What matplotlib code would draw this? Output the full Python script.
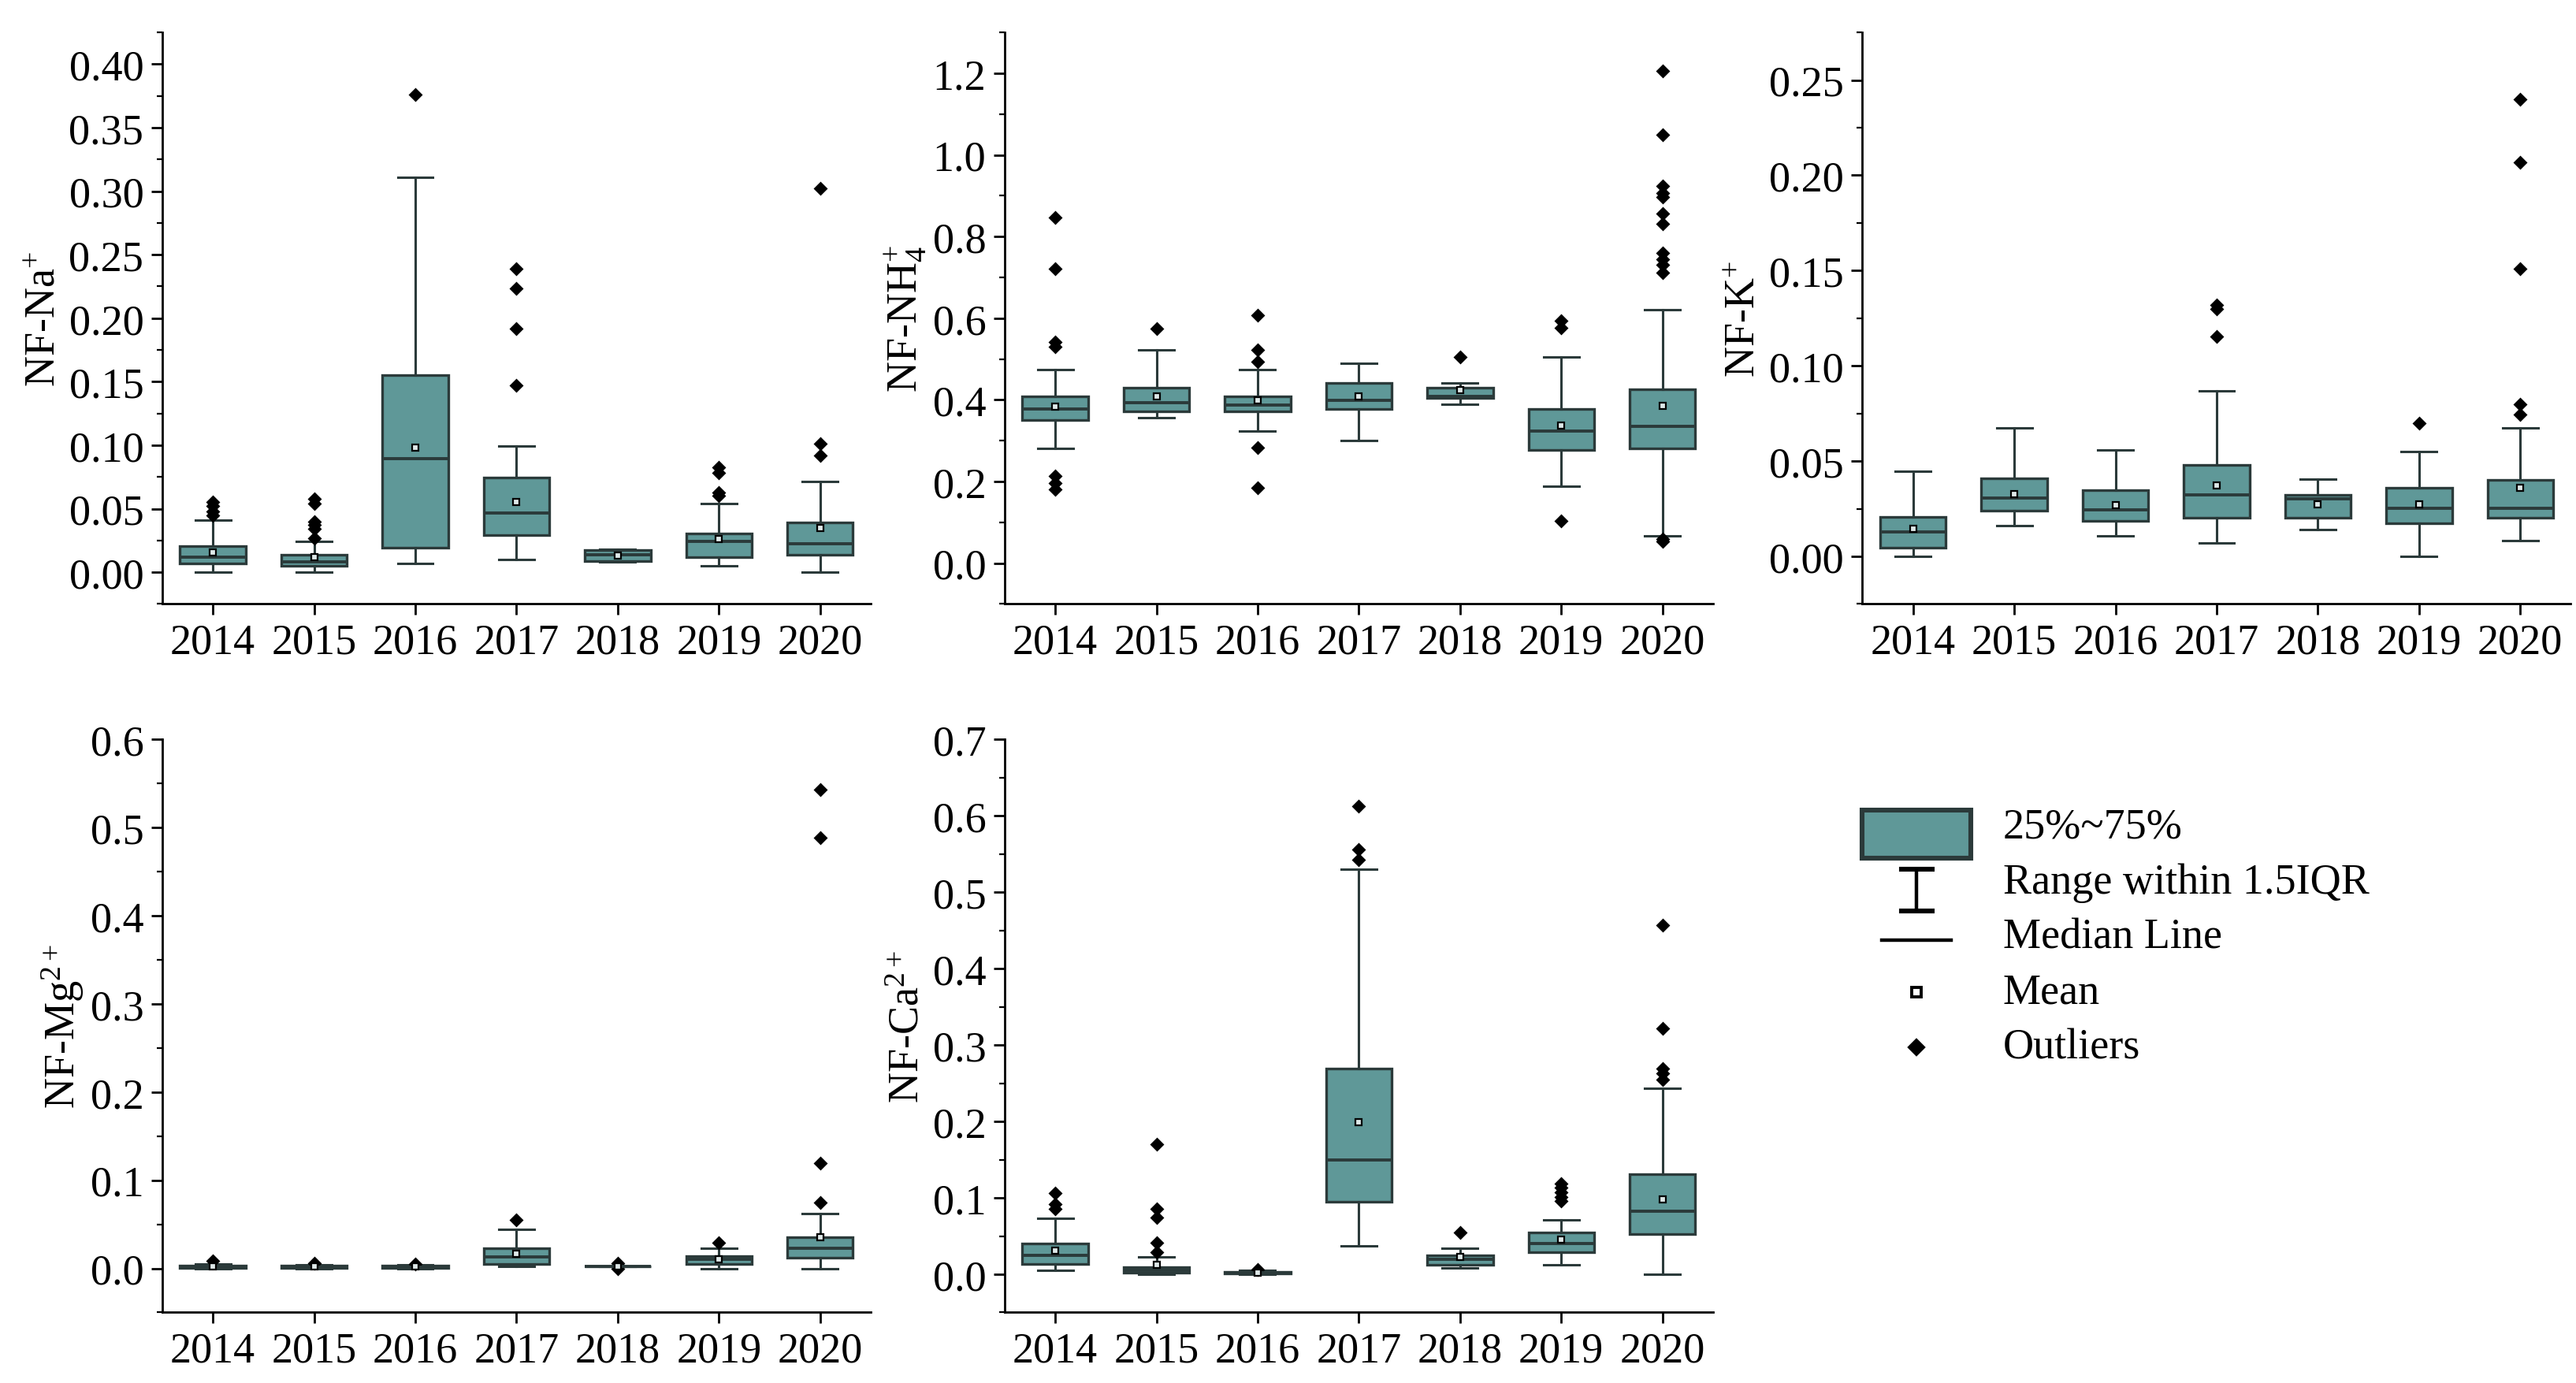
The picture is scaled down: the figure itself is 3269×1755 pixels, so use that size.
import matplotlib
matplotlib.use("Agg")
import matplotlib.pyplot as plt
from matplotlib.ticker import AutoMinorLocator, MultipleLocator
from matplotlib.patches import Rectangle
from matplotlib.lines import Line2D
from matplotlib.legend_handler import HandlerBase

plt.rcParams['font.family'] = ['Liberation Serif', 'DejaVu Serif']
plt.rcParams['mathtext.fontset'] = 'custom'
plt.rcParams['mathtext.rm'] = 'Liberation Serif'
plt.rcParams['mathtext.it'] = 'Liberation Serif:italic'

years = ['2014', '2015', '2016', '2017', '2018', '2019', '2020']

# per ion: whislo, q1, med, q3, whishi, mean, outliers (one entry per year)
na_whislo = [0.0, 0.0, 0.007, 0.010, 0.008, 0.005, 0.0]
na_q1 = [0.0066, 0.0048, 0.019, 0.029, 0.0086, 0.0117, 0.0135]
na_med = [0.0117, 0.0083, 0.0895, 0.0463, 0.0138, 0.0242, 0.0225]
na_q3 = [0.0204, 0.0138, 0.155, 0.0743, 0.0173, 0.0307, 0.039]
na_whishi = [0.0408, 0.024, 0.311, 0.0995, 0.018, 0.0542, 0.0715]
na_mean = [0.0155, 0.012, 0.098, 0.0553, 0.0128, 0.0259, 0.0345]
na_out = [[0.055, 0.052, 0.048, 0.045], [0.058, 0.054, 0.040, 0.037, 0.034, 0.027],
          [0.376], [0.239, 0.2235, 0.1917, 0.1468], [], [0.0826, 0.0784, 0.063, 0.060],
          [0.302, 0.101, 0.092]]

nh4_whislo = [0.281, 0.356, 0.324, 0.301, 0.3885, 0.189, 0.066]
nh4_q1 = [0.350, 0.371, 0.371, 0.377, 0.404, 0.277, 0.281]
nh4_med = [0.378, 0.393, 0.387, 0.399, 0.409, 0.324, 0.335]
nh4_q3 = [0.409, 0.430, 0.409, 0.441, 0.430, 0.377, 0.425]
nh4_whishi = [0.4735, 0.522, 0.4735, 0.490, 0.441, 0.504, 0.62]
nh4_mean = [0.384, 0.409, 0.399, 0.409, 0.423, 0.337, 0.385]
nh4_out = [[0.846, 0.722, 0.541, 0.531, 0.213, 0.197, 0.181], [0.574],
           [0.608, 0.522, 0.493, 0.283, 0.184], [], [0.504], [0.593, 0.576, 0.103],
           [1.206, 1.049, 0.923, 0.907, 0.896, 0.857, 0.832, 0.759, 0.744, 0.730, 0.711,
            0.059, 0.054]]

k_whislo = [0.0, 0.0162, 0.0106, 0.0072, 0.0141, 0.0, 0.0081]
k_q1 = [0.0046, 0.0238, 0.0185, 0.0203, 0.0203, 0.0175, 0.0203]
k_med = [0.0127, 0.0307, 0.0242, 0.0323, 0.030, 0.0254, 0.0254]
k_q3 = [0.0208, 0.0411, 0.0346, 0.048, 0.0323, 0.0358, 0.040]
k_whishi = [0.0446, 0.0672, 0.0559, 0.0868, 0.0406, 0.055, 0.0674]
k_mean = [0.0145, 0.0325, 0.027, 0.0372, 0.0272, 0.0272, 0.036]
k_out = [[], [], [], [0.132, 0.130, 0.1154], [], [0.070],
         [0.240, 0.207, 0.151, 0.080, 0.0746]]

mg_whislo = [0.0, 0.0, 0.0, 0.0025, 0.002, 0.0, 0.0]
mg_q1 = [0.0005, 0.0005, 0.0005, 0.0051, 0.002, 0.0051, 0.0122]
mg_med = [0.0015, 0.0015, 0.0015, 0.0127, 0.002, 0.0102, 0.0229]
mg_q3 = [0.0035, 0.003, 0.003, 0.0229, 0.0025, 0.0137, 0.035]
mg_whishi = [0.0045, 0.004, 0.004, 0.0442, 0.0025, 0.0229, 0.062]
mg_mean = [0.0025, 0.002, 0.002, 0.0163, 0.002, 0.010, 0.035]
mg_out = [[0.0086], [0.006], [0.005], [0.0554], [0.006, 0.003, 0.0], [0.029],
          [0.5435, 0.489, 0.119, 0.0747]]

ca_whislo = [0.0053, 0.0, 0.0, 0.0369, 0.0082, 0.0123, 0.0]
ca_q1 = [0.0135, 0.0018, 0.0005, 0.0944, 0.0123, 0.0287, 0.0522]
ca_med = [0.0252, 0.0053, 0.0018, 0.150, 0.0193, 0.0405, 0.0827]
ca_q3 = [0.0405, 0.0094, 0.0035, 0.269, 0.0252, 0.0545, 0.1307]
ca_whishi = [0.0733, 0.0229, 0.0047, 0.5306, 0.034, 0.0709, 0.2439]
ca_mean = [0.031, 0.0123, 0.0023, 0.1987, 0.0223, 0.0457, 0.0985]
ca_out = [[0.106, 0.0915, 0.0856], [0.1706, 0.0856, 0.0739, 0.0416, 0.0287],
          [0.0064], [0.613, 0.556, 0.543], [0.0551],
          [0.119, 0.113, 0.107, 0.101, 0.0956], [0.4567, 0.322, 0.269, 0.263, 0.2544]]

BOX_FC = '#5f9898'
EDGE = '#2b3a3a'

panels = [
    (r'NF-Na$^{+}$', na_whislo, na_q1, na_med, na_q3, na_whishi, na_mean, na_out, (-0.025, 0.425), 0.05, '%.2f'),
    (r'NF-NH$_{4}^{+}$', nh4_whislo, nh4_q1, nh4_med, nh4_q3, nh4_whishi, nh4_mean, nh4_out, (-0.1, 1.3), 0.2, '%.1f'),
    (r'NF-K$^{+}$', k_whislo, k_q1, k_med, k_q3, k_whishi, k_mean, k_out, (-0.025, 0.275), 0.05, '%.2f'),
    (r'NF-Mg$^{2+}$', mg_whislo, mg_q1, mg_med, mg_q3, mg_whishi, mg_mean, mg_out, (-0.05, 0.6), 0.1, '%.1f'),
    (r'NF-Ca$^{2+}$', ca_whislo, ca_q1, ca_med, ca_q3, ca_whishi, ca_mean, ca_out, (-0.05, 0.7), 0.1, '%.1f'),
]

positions = [
    [0.063, 0.563, 0.275, 0.413],
    [0.390, 0.563, 0.275, 0.413],
    [0.723, 0.563, 0.275, 0.413],
    [0.063, 0.051, 0.275, 0.414],
    [0.390, 0.051, 0.275, 0.414],
]

FS = 19.5

fig = plt.figure(figsize=(16.345, 8.78), dpi=200)

for pos, (label, lo, q1, med, q3, hi, mean, out, ylim, step, fmt) in zip(positions, panels):
    ax = fig.add_axes(pos)
    stats = []
    for i in range(len(years)):
        stats.append({'whislo': lo[i], 'q1': q1[i], 'med': med[i], 'q3': q3[i],
                      'whishi': hi[i], 'mean': mean[i], 'fliers': out[i], 'label': years[i]})
    ax.bxp(stats, positions=range(len(years)), widths=0.65, patch_artist=True,
           showmeans=True, showfliers=True,
           boxprops=dict(facecolor=BOX_FC, edgecolor=EDGE, linewidth=1.2),
           medianprops=dict(color=EDGE, linewidth=1.4),
           whiskerprops=dict(color=EDGE, linewidth=1.1),
           capprops=dict(color=EDGE, linewidth=1.1),
           capwidths=0.35,
           meanprops=dict(marker='s', markerfacecolor='#dfe9e9', markeredgecolor='black',
                          markersize=3.2, markeredgewidth=0.8),
           flierprops=dict(marker='D', markerfacecolor='black', markeredgecolor='black',
                           markersize=3.6))
    ax.set_xlim(-0.5, 6.5)
    ax.set_ylim(*ylim)
    ax.yaxis.set_major_locator(MultipleLocator(step))
    ax.yaxis.set_minor_locator(AutoMinorLocator(2))
    ax.yaxis.set_major_formatter(matplotlib.ticker.FormatStrFormatter(fmt))
    ax.set_xticks(range(len(years)))
    ax.set_xticklabels(years)
    for s in ['top', 'right']:
        ax.spines[s].set_visible(False)
    for s in ['left', 'bottom']:
        ax.spines[s].set_linewidth(1.0)
    ax.tick_params(axis='both', which='major', direction='out', length=5, width=1.0, labelsize=FS)
    ax.tick_params(axis='y', which='minor', direction='out', length=2.5, width=0.8)
    ax.set_ylabel(label, fontsize=FS, labelpad=2)


class BoxHandle(HandlerBase):
    def create_artists(self, legend, orig, xd, yd, w, h, fs, trans):
        return [Rectangle((-xd, -yd - 0.7 * h), w, h * 1.6, facecolor=BOX_FC,
                          edgecolor=EDGE, linewidth=2.2, transform=trans)]


class WhiskerHandle(HandlerBase):
    def create_artists(self, legend, orig, xd, yd, w, h, fs, trans):
        cx = -xd + w / 2
        top = -yd + h * 0.78
        bot = -yd - h * 0.62
        cw = w * 0.14
        return [Line2D([cx, cx], [bot, top], color='black', lw=1.6, transform=trans),
                Line2D([cx - cw, cx + cw], [top, top], color='black', lw=2.2, transform=trans),
                Line2D([cx - cw, cx + cw], [bot, bot], color='black', lw=2.2, transform=trans)]


class MedianHandle(HandlerBase):
    def create_artists(self, legend, orig, xd, yd, w, h, fs, trans):
        y = -yd + h * 0.25
        return [Line2D([-xd + w * 0.18, -xd + w * 0.82], [y, y], color='black', lw=1.6,
                       transform=trans)]


class MarkerHandle(HandlerBase):
    def create_artists(self, legend, orig, xd, yd, w, h, fs, trans):
        ln = Line2D([-xd + w / 2], [-yd + h * 0.35], linestyle='none', marker=orig.get_marker(),
                    markersize=orig.get_markersize(), markerfacecolor=orig.get_markerfacecolor(),
                    markeredgecolor='black', markeredgewidth=1.4, transform=trans)
        return [ln]


h_box = Rectangle((0, 0), 1, 1)
h_whisk = Line2D([], [])
h_med = Line2D([], [])
h_mean = Line2D([], [], marker='s', markersize=4.5, markerfacecolor='white')
h_out = Line2D([], [], marker='D', markersize=4.5, markerfacecolor='black')

fig.legend([h_box, h_whisk, h_med, h_mean, h_out],
           ['25%~75%', 'Range within 1.5IQR', 'Median Line', 'Mean', 'Outliers'],
           handler_map={h_box: BoxHandle(), h_whisk: WhiskerHandle(), h_med: MedianHandle(),
                        h_mean: MarkerHandle(), h_out: MarkerHandle()},
           loc='upper left', bbox_to_anchor=(0.708, 0.444), frameon=False, fontsize=FS,
           handlelength=2.55, handletextpad=0.75, labelspacing=0.36)

fig.savefig('out.png', dpi=200)
